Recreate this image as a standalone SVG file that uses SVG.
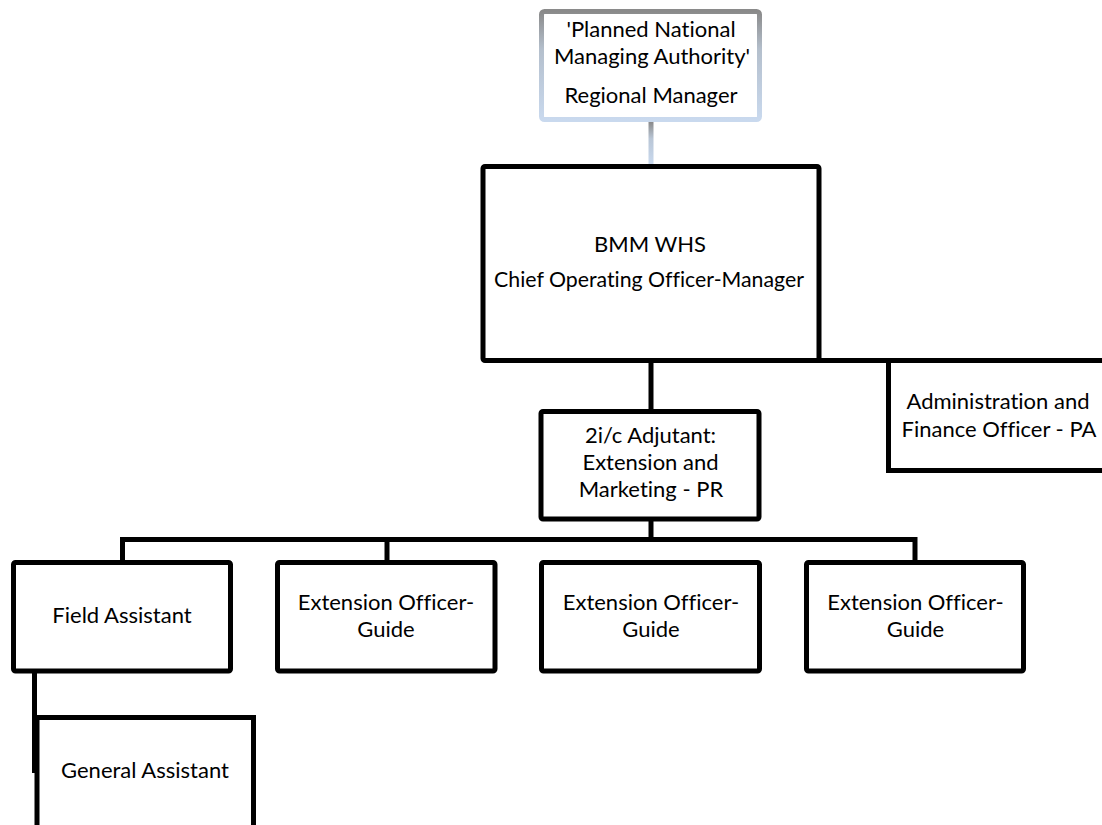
<svg xmlns="http://www.w3.org/2000/svg" width="1102" height="825" viewBox="0 0 1102 825">
<defs>
<linearGradient id="gframe" x1="0" y1="0" x2="0" y2="1">
<stop offset="0" stop-color="#8a8a8a"/>
<stop offset="0.35" stop-color="#b4bfcc"/>
<stop offset="1" stop-color="#c9d9ee"/>
</linearGradient>
<linearGradient id="gconn" x1="0" y1="122" x2="0" y2="164" gradientUnits="userSpaceOnUse">
<stop offset="0" stop-color="#8a8a8a"/>
<stop offset="0.4" stop-color="#b9c6d6"/>
<stop offset="1" stop-color="#c9d9ee"/>
</linearGradient>
</defs>
<style>
.box{fill:#ffffff;stroke:#000000;stroke-width:5;}
.conn{fill:none;stroke:#000000;stroke-width:5;}
text{font-family:Lato,"Liberation Sans",sans-serif;font-size:22px;fill:#000000;text-anchor:middle;font-variant-ligatures:none;}
</style>
<rect width="1102" height="825" fill="#ffffff"/>
<g id="connectors">
<line x1="651" y1="121" x2="651" y2="165" stroke="url(#gconn)" stroke-width="5"/>
<line class="conn" x1="651" y1="360" x2="651" y2="412"/>
<line class="conn" x1="816" y1="360.5" x2="1105" y2="360.5"/>
<line class="conn" x1="651" y1="519" x2="651" y2="540"/>
<polyline class="conn" points="122.5,563 122.5,539.5 915,539.5 915,563"/>
<line class="conn" x1="387" y1="539.5" x2="387" y2="563"/>
<line class="conn" x1="34.5" y1="671" x2="34.5" y2="773"/>
</g>
<g id="regional-manager">
<rect x="541.5" y="11.5" width="218" height="108" rx="3" fill="#ffffff" stroke="url(#gframe)" stroke-width="5"/>
<text x="651" y="37">'Planned National</text>
<text x="652" y="64">Managing Authority'</text>
<text x="651" y="103">Regional Manager</text>
</g>
<g id="coo">
<rect class="box" x="483" y="166.5" width="336" height="194" rx="2"/>
<text x="650" y="252">BMM WHS</text>
<text x="649" y="287" style="font-size:21.3px">Chief Operating Officer-Manager</text>
</g>
<g id="admin">
<path class="box" d="M1110,360.5 H888.5 V470.5 H1110"/>
<text x="998" y="409">Administration and</text>
<text x="999" y="437">Finance Officer - PA</text>
</g>
<g id="adjutant">
<rect class="box" x="541" y="411.5" width="218" height="107.5" rx="2"/>
<text x="650.5" y="443">2i/c Adjutant:</text>
<text x="650.5" y="470">Extension and</text>
<text x="651" y="497">Marketing - PR</text>
</g>
<g id="field-assistant">
<rect class="box" x="13.5" y="562.5" width="217" height="108.5" rx="2"/>
<text x="122" y="623">Field Assistant</text>
</g>
<g id="ext-officer-1">
<rect class="box" x="277.5" y="562.5" width="217.5" height="108.5" rx="2"/>
<text x="386" y="610">Extension Officer-</text>
<text x="386" y="637">Guide</text>
</g>
<g id="ext-officer-2">
<rect class="box" x="541.5" y="562.5" width="218" height="108.5" rx="2"/>
<text x="651" y="610">Extension Officer-</text>
<text x="651" y="637">Guide</text>
</g>
<g id="ext-officer-3">
<rect class="box" x="806.5" y="562.5" width="217" height="108.5" rx="2"/>
<text x="915.5" y="610">Extension Officer-</text>
<text x="915.5" y="637">Guide</text>
</g>
<g id="general-assistant">
<path class="box" d="M37,830 V717.5 H253.5 V830"/>
<text x="145" y="778">General Assistant</text>
</g>
</svg>
